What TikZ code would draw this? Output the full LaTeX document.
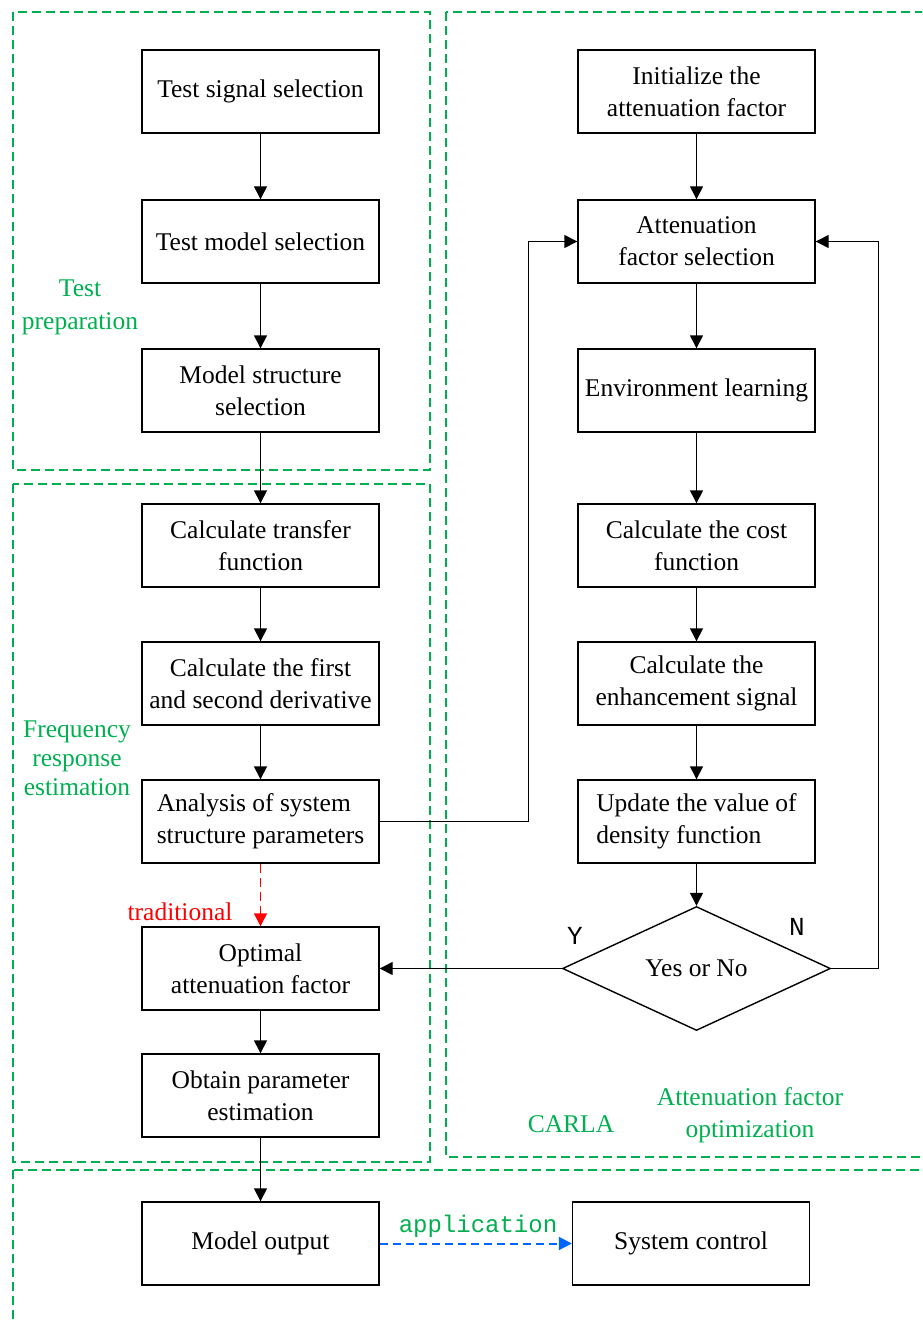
\documentclass[tikz,border=0pt]{standalone}
\usepackage{fontspec}
\setmainfont{Liberation Serif}
\newfontfamily\monof{Liberation Mono}
\usetikzlibrary{arrows.meta,shapes.geometric}
\definecolor{grn}{RGB}{0,176,80}
\definecolor{blu}{RGB}{0,102,255}
\newcommand{\mainf}{\fontsize{25.5}{32}\selectfont}
\begin{document}
\begin{tikzpicture}[x=1pt,y=-1pt,
  box/.style={draw, line width=1.4pt, minimum width=237pt, minimum height=83pt, inner sep=2pt, align=center, font=\mainf},
  arr/.style={-{Triangle[length=13pt,width=13pt]}, line width=1.4pt},
  grp/.style={draw=grn, line width=1.5pt, dash pattern=on 9pt off 5pt},
  lab/.style={text=grn, align=center, font=\mainf}]
\useasboundingbox (0,0) rectangle (922,1324);
\clip (0,0) rectangle (922,1324);
% group frames
\draw[grp] (13,12) rectangle (430,470);
\draw[grp] (13,484) rectangle (430,1162);
\draw[grp] (446,12) rectangle (940,1157);
\draw[grp] (13,1170) rectangle (940,1340);
% left column
\node[box] (ts) at (260.5,91.5) {Test signal selection};
\node[box] (tm) at (260.5,241.5) {Test model selection};
\node[box] (ms) at (260.5,390.5) {Model structure\\selection};
\node[box] (ct) at (260.5,545.5) {Calculate transfer\\function};
\node[box] (cf) at (260.5,683.5) {Calculate the first\\and second derivative};
\node[box,align=left] (an) at (260.5,821.5) {Analysis of system\\structure parameters};
\node[box] (op) at (260.5,968.5) {Optimal\\attenuation factor};
\node[box] (ob) at (260.5,1095.5) {Obtain parameter\\estimation};
\node[box] (mo) at (260.5,1243.5) {Model output};
\node[box] (sc) at (691,1243.5) {System control};
% right column
\node[box] (in) at (696.5,91.5) {Initialize the\\attenuation factor};
\node[box] (af) at (696.5,241.5) {Attenuation\\factor selection};
\node[box] (el) at (696.5,390.5) {Environment learning};
\node[box] (cc) at (696.5,545.5) {Calculate the cost\\function};
\node[box] (ce) at (696.5,683.5) {Calculate the\\enhancement signal};
\node[box,align=left] (up) at (696.5,821.5) {Update the value of\\density function};
\node[draw, diamond, line width=1.4pt, minimum width=268pt, minimum height=124pt, inner sep=0pt, shape aspect=2.16, font=\mainf] (yn) at (696.5,968.5) {Yes or No};
% arrows
\draw[arr] (ts.south) -- (tm.north);
\draw[arr] (tm.south) -- (ms.north);
\draw[arr] (ms.south) -- (ct.north);
\draw[arr] (ct.south) -- (cf.north);
\draw[arr] (cf.south) -- (an.north);
\draw[arr, red, line width=1.5pt, dash pattern=on 9pt off 5pt] (an.south) -- (op.north);
\draw[arr] (op.south) -- (ob.north);
\draw[arr] (ob.south) -- (mo.north);
\draw[arr, blu, line width=2pt, dash pattern=on 8pt off 5pt] (mo.east) -- (sc.west);
\draw[arr] (in.south) -- (af.north);
\draw[arr] (af.south) -- (el.north);
\draw[arr] (el.south) -- (cc.north);
\draw[arr] (cc.south) -- (ce.north);
\draw[arr] (ce.south) -- (up.north);
\draw[arr] (up.south) -- (yn.north);
\draw[arr] (an.east) -- ++(149,0) |- (af.west);
\draw[arr] (yn.east) -- ++(47,0) |- (af.east);
\draw[arr] (yn.west) -- (op.east);
% labels
\node[lab, font=\fontsize{25.5}{33}\selectfont] (l1) at (80,307) {Test\\preparation};
\node[lab, font=\fontsize{25.5}{29}\selectfont] (l2) at (77,758) {Frequency\\response\\estimation};
\node[text=red, font=\mainf] (l3) at (180,912) {traditional};
\node[lab] (l4) at (571,1124) {CARLA};
\node[lab] (l5) at (750,1115) {Attenuation factor\\optimization};
\node[font=\monof\fontsize{26}{26}\selectfont] (ly) at (575,936) {Y};
\node[font=\monof\fontsize{26}{26}\selectfont] (lnn) at (797,927) {N};
\node[text=grn, font=\monof\fontsize{24}{24}\selectfont] (lap) at (478,1226) {application};
\end{tikzpicture}
\end{document}
